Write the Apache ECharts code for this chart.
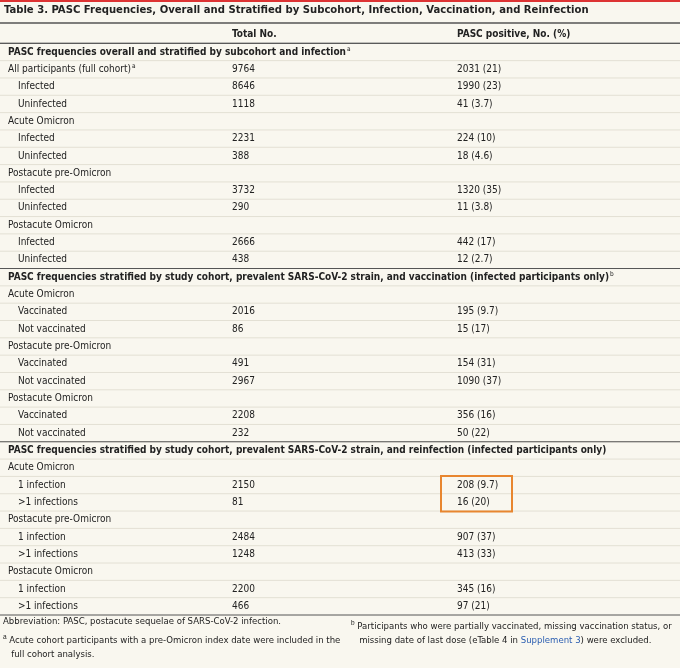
<!DOCTYPE html><html><head><meta charset="utf-8"><script src="https://cdn.jsdelivr.net/npm/echarts@6/dist/echarts.min.js"></script>
<style>html,body{margin:0;padding:0;background:#f9f7ef}#c{width:680px;height:668px}</style></head><body><div id="c"></div><script>
// kind: h=section heading, g=group, i=indented row, t=top-level row
const rowLabels=["PASC frequencies overall and stratified by subcohort and infection","All participants (full cohort)","Infected","Uninfected","Acute Omicron","Infected","Uninfected","Postacute pre-Omicron","Infected","Uninfected","Postacute Omicron","Infected","Uninfected",
"PASC frequencies stratified by study cohort, prevalent SARS-CoV-2 strain, and vaccination (infected participants only)","Acute Omicron","Vaccinated","Not vaccinated","Postacute pre-Omicron","Vaccinated","Not vaccinated","Postacute Omicron","Vaccinated","Not vaccinated",
"PASC frequencies stratified by study cohort, prevalent SARS-CoV-2 strain, and reinfection (infected participants only)","Acute Omicron","1 infection",">1 infections","Postacute pre-Omicron","1 infection",">1 infections","Postacute Omicron","1 infection",">1 infections"];
const rowKinds=["h","t","i","i","g","i","i","g","i","i","g","i","i","h","g","i","i","g","i","i","g","i","i","h","g","i","i","g","i","i","g","i","i"];
const rowSup=["a","a","","","","","","","","","","","","b","","","","","","","","","","","","","","","","","","",""];
const totals=[null,9764,8646,1118,null,2231,388,null,3732,290,null,2666,438,null,null,2016,86,null,491,2967,null,2208,232,null,null,2150,81,null,2484,1248,null,2200,466];
const positives=[null,2031,1990,41,null,224,18,null,1320,11,null,442,12,null,null,195,15,null,154,1090,null,356,50,null,null,208,16,null,907,413,null,345,97];
const percents=[null,"21","23","3.7",null,"10","4.6",null,"35","3.8",null,"17","2.7",null,null,"9.7","17",null,"31","37",null,"16","22",null,null,"9.7","20",null,"37","33",null,"16","21"];
const highlighted=[25,26];
const cats=["header"].concat(rowLabels.map((_,i)=>"r"+i));
const F="DejaVu Sans Condensed";
const data=cats.map((c,i)=>[0,c,i]);
const chart=echarts.init(document.getElementById('c'));
function renderItem(params,api){
  const idx=api.value(2);
  const p=api.coord([0,api.value(1)]);
  const h=api.size([0,1])[1];
  const y=p[1], top=y-h/2, bot=y+h/2;
  const ch=[];
  const txt=(x,t,bold)=>({type:'text',style:{x:x,y:y,text:t,font:(bold?'bold ':'')+'10px "'+F+'"',fill:'#222',verticalAlign:'middle'}});
  const sup={s:{fontSize:6.5,verticalAlign:'top',padding:[0,0,6,1],fill:'#222',fontFamily:F}};
  if(idx===0){
    ch.push(txt(232,'Total No.',true),txt(457,'PASC positive, No. (%)',true));
    ch.push({type:'line',shape:{x1:0,y1:bot,x2:680,y2:bot},style:{stroke:'#555',lineWidth:1}});
    return {type:'group',children:ch};
  }
  const r=idx-1, k=rowKinds[r];
  if(k==='h') ch.push({type:'line',shape:{x1:0,y1:top,x2:680,y2:top},style:{stroke:'#555',lineWidth:1}});
  ch.push({type:'line',shape:{x1:0,y1:bot,x2:680,y2:bot},style:{stroke:r===rowKinds.length-1?'#555':'#e3e0d4',lineWidth:1}});
  const lab=rowLabels[r]+(rowSup[r]?'{s|'+rowSup[r]+'}':'');
  const t=txt(k==='i'?18:8,lab,k==='h');t.style.rich=sup;ch.push(t);
  if(totals[r]!=null) ch.push(txt(232,String(totals[r])));
  if(positives[r]!=null) ch.push(txt(457,positives[r]+' ('+percents[r]+')'));
  return {type:'group',children:ch};
}
const FS='9.5px "'+F+'"';
chart.setOption({
  backgroundColor:'#f9f7ef',animation:false,
  grid:{left:0,right:0,top:26,height:589},
  xAxis:{type:'value',min:0,max:1,show:false},
  yAxis:{type:'category',data:cats,inverse:true,show:false},
  series:[{type:'custom',data:data,renderItem:renderItem,encode:{x:0,y:1}},
   {type:'custom',data:[[0,'r'+highlighted[0],'r'+highlighted[1]]],renderItem:function(params,api){
     const a=api.coord([0,api.value(1)]),b=api.coord([0,api.value(2)]),h=api.size([0,1])[1];
     return {type:'rect',shape:{x:441,y:a[1]-h/2-0.5,width:71,height:b[1]-a[1]+h+1},style:{fill:'none',stroke:'#e8862f',lineWidth:2}};
   }}],
  graphic:[
   {type:'rect',shape:{x:0,y:0,width:680,height:2},style:{fill:'#d33'}},
   {type:'text',x:4,y:5,style:{text:'Table 3. PASC Frequencies, Overall and Stratified by Subcohort, Infection, Vaccination, and Reinfection',font:'bold 11.2px "'+F+'"',fill:'#222'}},
   {type:'line',shape:{x1:0,y1:23,x2:680,y2:23},style:{stroke:'#555',lineWidth:1.5}},
   {type:'text',x:3,y:617,style:{text:'Abbreviation: PASC, postacute sequelae of SARS-CoV-2 infection.',font:FS,fill:'#222'}},
   {type:'text',x:3,y:634,style:{text:'{s|a} Acute cohort participants with a pre-Omicron index date were included in the\n   full cohort analysis.',font:FS,fill:'#222',lineHeight:14,rich:{s:{fontSize:6.5,verticalAlign:'top'}}}},
   {type:'text',x:351,y:620,style:{text:'{s|b} Participants who were partially vaccinated, missing vaccination status, or\n   missing date of last dose (eTable 4 in {l|Supplement 3}) were excluded.',font:FS,fill:'#222',lineHeight:14,rich:{s:{fontSize:6.5,verticalAlign:'top'},l:{fill:'#2a5db0'}}}}
  ]
});
</script></body></html>
